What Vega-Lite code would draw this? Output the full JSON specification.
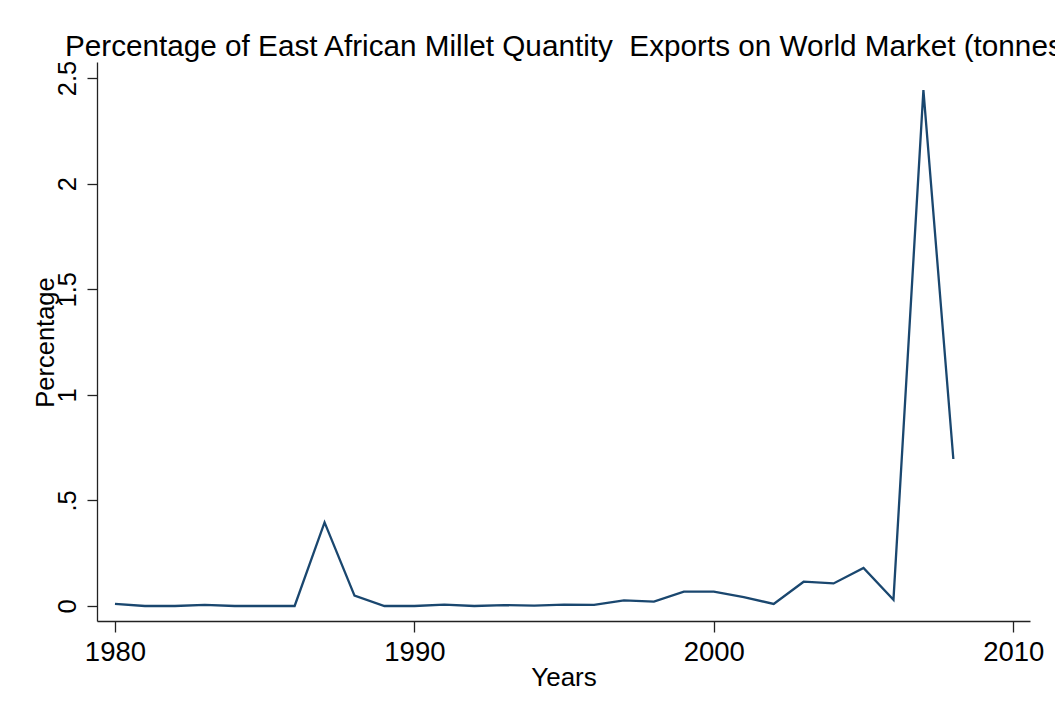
{
  "$schema": "https://vega.github.io/schema/vega-lite/v6.json",
  "autosize": "none",
  "width": 933,
  "height": 559,
  "padding": {"left": 97, "top": 62, "right": 25, "bottom": 98},
  "background": "white",
  "title": {
    "text": "Percentage of East African Millet Quantity\u00a0 Exports on World Market (tonnes)",
    "anchor": "start",
    "frame": "group",
    "dx": -32,
    "dy": 32,
    "offset": 7,
    "baseline": "alphabetic",
    "font": "Liberation Sans",
    "fontSize": 29.7,
    "fontWeight": "normal",
    "color": "black"
  },
  "data": {
    "values": [
      {"year": 1980, "pct": 0.010},
      {"year": 1981, "pct": 0.0},
      {"year": 1982, "pct": 0.0},
      {"year": 1983, "pct": 0.005},
      {"year": 1984, "pct": 0.0},
      {"year": 1985, "pct": 0.0},
      {"year": 1986, "pct": 0.0},
      {"year": 1987, "pct": 0.396},
      {"year": 1988, "pct": 0.049},
      {"year": 1989, "pct": 0.0},
      {"year": 1990, "pct": 0.0},
      {"year": 1991, "pct": 0.007},
      {"year": 1992, "pct": 0.0},
      {"year": 1993, "pct": 0.004},
      {"year": 1994, "pct": 0.002},
      {"year": 1995, "pct": 0.007},
      {"year": 1996, "pct": 0.005},
      {"year": 1997, "pct": 0.027},
      {"year": 1998, "pct": 0.021},
      {"year": 1999, "pct": 0.068},
      {"year": 2000, "pct": 0.068},
      {"year": 2001, "pct": 0.042},
      {"year": 2002, "pct": 0.010},
      {"year": 2003, "pct": 0.115},
      {"year": 2004, "pct": 0.107},
      {"year": 2005, "pct": 0.180},
      {"year": 2006, "pct": 0.030},
      {"year": 2007, "pct": 2.443},
      {"year": 2008, "pct": 0.696}
    ]
  },
  "mark": {"type": "line", "color": "#1a476f", "strokeWidth": 2.3, "clip": false},
  "encoding": {
    "x": {
      "field": "year",
      "type": "quantitative",
      "scale": {"domain": [1979.4, 2010.56], "nice": false, "zero": false},
      "axis": {
        "title": "Years",
        "values": [1980, 1990, 2000, 2010],
        "format": "d",
        "grid": false,
        "tickSize": 11,
        "labelPadding": 28,
        "labelBaseline": "alphabetic",
        "labelFontSize": 27.5,
        "titleFontSize": 26,
        "titleY": 64,
        "titleBaseline": "alphabetic"
      }
    },
    "y": {
      "field": "pct",
      "type": "quantitative",
      "scale": {"domain": [-0.071, 2.576], "nice": false, "zero": false},
      "axis": {
        "title": "Percentage",
        "values": [0, 0.5, 1, 1.5, 2, 2.5],
        "format": ".1~f",
        "labelExpr": "datum.value == 0.5 ? '.5' : datum.label",
        "grid": false,
        "tickSize": 10,
        "labelAngle": 270,
        "labelAlign": "center",
        "labelBaseline": "alphabetic",
        "labelPadding": 12,
        "labelFontSize": 25.5,
        "titleFontSize": 25.5,
        "titleX": -44,
        "titleY": 280,
        "titleBaseline": "alphabetic",
        "titleAngle": 270
      }
    }
  },
  "config": {
    "view": {"stroke": null},
    "axis": {
      "labelFont": "Liberation Sans",
      "titleFont": "Liberation Sans",
      "labelColor": "black",
      "titleColor": "black",
      "titleFontWeight": "normal",
      "domainColor": "#222222",
      "tickColor": "#222222",
      "domainWidth": 1.3,
      "tickWidth": 1.3,
      "labelFlush": false,
      "labelOverlap": false
    }
  }
}
